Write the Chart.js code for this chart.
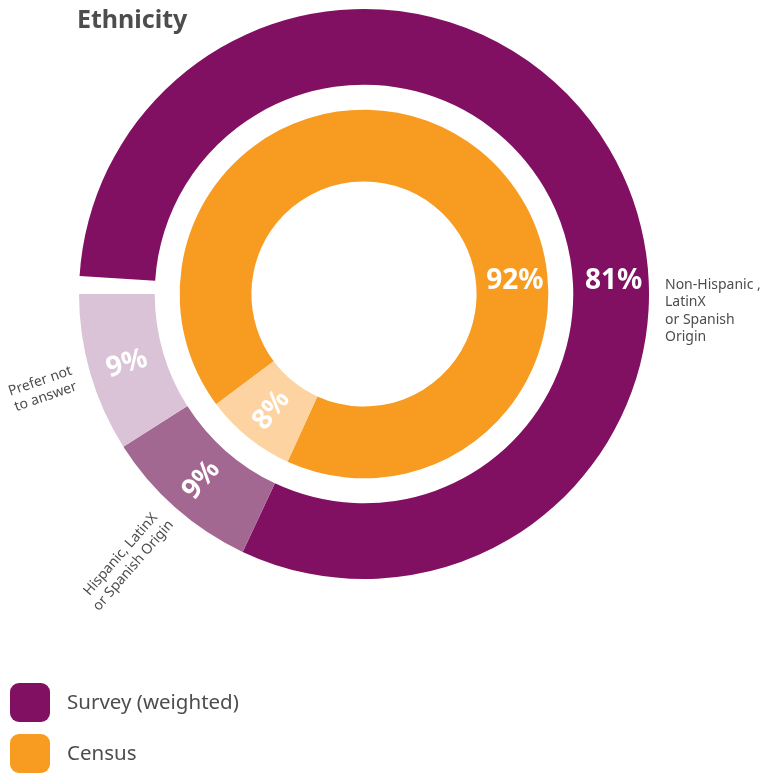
<!DOCTYPE html>
<html>
<head>
<meta charset="utf-8">
<script src="https://cdn.jsdelivr.net/npm/chart.js@4.4.1/dist/chart.umd.min.js"></script>
<style>
  html, body { margin: 0; padding: 0; background: #fff; }
  canvas { display: block; }
</style>
</head>
<body>
<canvas id="ethnicity-chart" width="764" height="774"></canvas>
<script>
const chartTitle = 'Ethnicity';
const seriesNames = ['Survey (weighted)', 'Census'];
const seriesColors = ['#821062', '#f89c21'];

const categories = ['Non-Hispanic , LatinX or Spanish Origin', 'Hispanic, LatinX or Spanish Origin', 'Prefer not to answer', ''];
const surveyValues = [81, 9, 9, 1];   // last one is the blank gap
const censusValues = [92, 8];

const surveyColors = ['#821062', '#a36891', '#dac3d7', 'rgba(255,255,255,0)'];
const censusColors = ['#f89c21', '#fdd4a1'];

const textColor = '#4d4d4d';
const font = '"Noto Sans", sans-serif';

const labelsPlugin = {
    id: 'ethnicityLabels',
    afterDatasetsDraw(chart) {
        const ctx = chart.ctx;
        ctx.save();

        // percentages inside the rings
        [0, 2].forEach(di => {
            const ds = chart.data.datasets[di];
            chart.getDatasetMeta(di).data.forEach((arc, i) => {
                const v = ds.data[i];
                if (!ds.showValue || !ds.showValue[i]) return;
                const p = arc.getProps(['x', 'y', 'startAngle', 'endAngle', 'innerRadius', 'outerRadius'], true);
                let r = (p.innerRadius + p.outerRadius) / 2;
                let a = (p.startAngle + p.endAngle) / 2;
                let rot = a + Math.PI;
                if (v > 50) {
                    r += 3;
                    a = Math.asin(-14 / r);
                    rot = 0;
                }
                ctx.save();
                ctx.translate(p.x + r * Math.cos(a), p.y + r * Math.sin(a));
                ctx.rotate(rot);
                ctx.fillStyle = '#fff';
                ctx.font = 'bold 28px ' + font;
                ctx.textAlign = 'center';
                ctx.textBaseline = 'middle';
                ctx.fillText(v + '%', 0, 1);
                ctx.restore();
            });
        });

        // category names around the outer ring
        const drawBlock = (lines, x, y, angle, align, lh) => {
            ctx.save();
            ctx.translate(x, y);
            ctx.rotate(angle * Math.PI / 180);
            ctx.fillStyle = textColor;
            ctx.font = '14px ' + font;
            ctx.textAlign = align;
            ctx.textBaseline = 'middle';
            const off = (lines.length - 1) * lh / 2;
            lines.forEach((l, i) => ctx.fillText(l, 0, i * lh - off));
            ctx.restore();
        };
        drawBlock(['Non-Hispanic ,', 'LatinX', 'or Spanish', 'Origin'], 665, 311, 0, 'left', 17.3);
        drawBlock(['Prefer not', 'to answer'], 43, 389, -19, 'center', 16.5);
        drawBlock(['Hispanic, LatinX', 'or Spanish Origin'], 127, 560, -49, 'center', 17);

        // title
        ctx.fillStyle = textColor;
        ctx.font = 'bold 25px ' + font;
        ctx.textAlign = 'left';
        ctx.textBaseline = 'alphabetic';
        ctx.fillText(chartTitle, 77, 28);

        // legend
        seriesNames.forEach((name, i) => {
            const y = 683 + i * 51;
            ctx.fillStyle = seriesColors[i];
            ctx.beginPath();
            ctx.roundRect(10, y, 40, 39, 9);
            ctx.fill();
            ctx.fillStyle = textColor;
            ctx.font = '20.5px ' + font;
            ctx.textBaseline = 'middle';
            ctx.fillText(name, 67, y + 20);
        });

        ctx.restore();
    }
};

new Chart(document.getElementById('ethnicity-chart'), {
    type: 'doughnut',
    data: {
        labels: categories,
        datasets: [
            {
                label: seriesNames[0],
                data: surveyValues,
                backgroundColor: surveyColors,
                showValue: [true, true, true, false],
                weight: 76,
                rotation: 273.6
            },
            {
                label: 'spacer',
                data: [1],
                backgroundColor: 'rgba(255,255,255,0)',
                weight: 25
            },
            {
                label: seriesNames[1],
                data: censusValues,
                backgroundColor: censusColors,
                showValue: [true, true],
                weight: 72,
                rotation: 233.3
            }
        ]
    },
    options: {
        responsive: false,
        animation: false,
        cutout: '39.5%',
        elements: { arc: { borderWidth: 0 } },
        layout: { padding: { left: 79, top: 9, right: 115, bottom: 195 } },
        plugins: {
            legend: { display: false },
            tooltip: { enabled: false }
        }
    },
    plugins: [labelsPlugin]
});
</script>
</body>
</html>
